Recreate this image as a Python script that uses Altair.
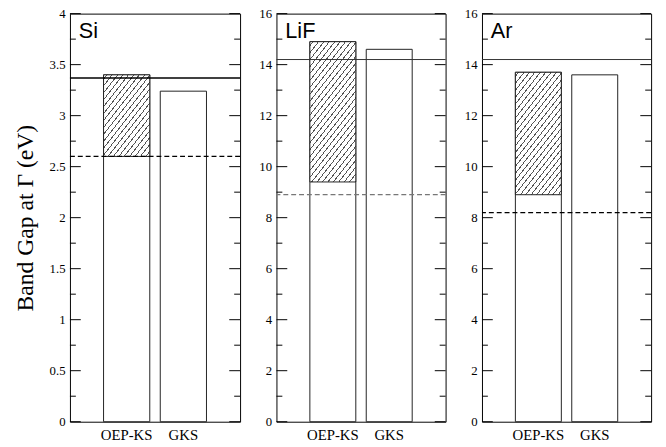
import math
import altair as alt
import pandas as pd

# ---------------- data ----------------
materials = ["Si", "LiF", "Ar"]
methods = ["OEP-KS", "GKS"]
oep_ks_gap = [2.60, 9.40, 8.90]          # KS gap (bottom of hatched part)
oep_ks_with_disc = [3.40, 14.90, 13.70]  # KS gap + discontinuity (top of hatched part)
gks_gap = [3.24, 14.60, 13.60]
exp_gap = [3.37, 14.20, 14.20]           # solid horizontal line
dashed_gap = [2.60, 8.90, 8.20]          # dashed horizontal line
y_max = [4, 16, 16]
major_ticks = [
    [0, 0.5, 1, 1.5, 2, 2.5, 3, 3.5, 4],
    [0, 2, 4, 6, 8, 10, 12, 14, 16],
    [0, 2, 4, 6, 8, 10, 12, 14, 16],
]
minor_ticks = [
    [0.25, 0.75, 1.25, 1.75, 2.25, 2.75, 3.25, 3.75],
    [1, 3, 5, 7, 9, 11, 13, 15],
    [1, 3, 5, 7, 9, 11, 13, 15],
]
y_title = "Band Gap at Γ (eV)"

# ---------------- layout / style ----------------
widths = [173, 172, 172]
H = 415
PAD_IN = 0.185
PAD_OUT = 0.5925
SERIF = "Liberation Serif"
SANS = "Liberation Sans"
MAJOR_LEN = 11
MINOR_LEN = 6
line_styles = [
    dict(solid="black", solid_w=1.5, dash="black"),
    dict(solid="#333333", solid_w=1.0, dash="#777777"),
    dict(solid="#333333", solid_w=1.0, dash="black"),
]


def hatch_fill(w, h, theta_deg=52.0, spacing_h=5.5, lw=0.9, color="#555555"):
    th = math.radians(theta_deg)
    s, c = math.sin(th), math.cos(th)
    s_max = w * s + h * c
    denom = (w * s) ** 2 + (h * c) ** 2
    a = s_max / denom
    period = spacing_h * s
    stops = [{"offset": 0, "color": "white"}]
    pos = period * 0.5
    while pos + lw < s_max:
        o1 = pos / s_max
        o2 = (pos + lw) / s_max
        stops += [
            {"offset": o1, "color": "white"},
            {"offset": o1, "color": color},
            {"offset": o2, "color": color},
            {"offset": o2, "color": "white"},
        ]
        pos += period
    stops.append({"offset": 1, "color": "white"})
    return {"gradient": "linear", "x1": 0, "y1": 0,
            "x2": a * w * s, "y2": a * h * c, "stops": stops}


def panel(i):
    W = widths[i]
    ymax = y_max[i]
    yscale = alt.Scale(domain=[0, ymax], nice=False, zero=True)
    if i == 0:
        yaxis = alt.Axis(title=y_title, values=major_ticks[i], format="~g",
                         ticks=False, domain=False, grid=False,
                         labelPadding=5, minExtent=22, maxExtent=22,
                         titlePadding=11)
    else:
        yaxis = alt.Axis(title=None, values=major_ticks[i], format="d",
                         ticks=False, domain=False, grid=False,
                         labelPadding=5, minExtent=20, maxExtent=20)
    xscale = alt.Scale(domain=methods, paddingInner=PAD_IN, paddingOuter=PAD_OUT)
    xaxis = alt.Axis(title=None, ticks=False, domain=False, labelAngle=0,
                     labelPadding=6, labelFont=SERIF, labelFontSize=15,
                     labelColor="black")
    X = alt.X("method:N", scale=xscale, axis=xaxis, sort=methods)

    def Y(field):
        return alt.Y(field, scale=yscale, axis=yaxis)

    bars_df = pd.DataFrame({"method": methods,
                            "top": [oep_ks_with_disc[i], gks_gap[i]]})
    bars = alt.Chart(bars_df).mark_bar(
        fill="white", stroke="#222222", strokeWidth=1
    ).encode(x=X, y=Y("top:Q"))

    band_w = W / 3.0 * (1 - PAD_IN)
    hatch_h = (oep_ks_with_disc[i] - oep_ks_gap[i]) / ymax * H
    hatch_df = pd.DataFrame({"method": [methods[0]],
                             "lo": [oep_ks_gap[i]],
                             "hi": [oep_ks_with_disc[i]]})
    hatch = alt.Chart(hatch_df).mark_bar(
        fill=hatch_fill(band_w, hatch_h), stroke="#222222", strokeWidth=1
    ).encode(x=X, y=Y("lo:Q"), y2="hi:Q")

    st = line_styles[i]
    exp_rule = alt.Chart(pd.DataFrame({"gap": [exp_gap[i]]})).mark_rule(
        color=st["solid"], strokeWidth=st["solid_w"]
    ).encode(y=Y("gap:Q"))
    dash_rule = alt.Chart(pd.DataFrame({"gap": [dashed_gap[i]]})).mark_rule(
        color=st["dash"], strokeWidth=1.2, strokeDash=[5, 3]
    ).encode(y=Y("gap:Q"))

    maj_df = pd.DataFrame({"v": major_ticks[i]})
    min_df = pd.DataFrame({"v": minor_ticks[i]})
    tick_layers = []
    for df, ln in ((maj_df, MAJOR_LEN), (min_df, MINOR_LEN)):
        tick_layers.append(alt.Chart(df).mark_rule(color="black", strokeWidth=1).encode(
            y=Y("v:Q"), x=alt.value(0), x2=alt.value(ln)))
        tick_layers.append(alt.Chart(df).mark_rule(color="black", strokeWidth=1).encode(
            y=Y("v:Q"), x=alt.value(W), x2=alt.value(W - ln)))

    label = alt.Chart(pd.DataFrame({"name": [materials[i]]})).mark_text(
        font=SANS, fontSize=22, align="left", baseline="alphabetic", color="black"
    ).encode(text="name:N", x=alt.value(9), y=alt.value(25))

    return alt.layer(bars, hatch, exp_rule, dash_rule, *tick_layers, label).properties(
        width=W, height=H)


chart = alt.hconcat(*[panel(i) for i in range(3)], spacing=14).properties(
    padding={"left": 5, "top": -5, "right": 5, "bottom": 0}
).configure_view(
    stroke="black", strokeWidth=1
).configure_axis(
    labelFont=SERIF, labelFontSize=13, labelColor="black",
    titleFont=SERIF, titleFontSize=24, titleFontWeight="normal", titleColor="black",
)

chart.save("out.html", embed_options={"renderer": "svg", "actions": False})
